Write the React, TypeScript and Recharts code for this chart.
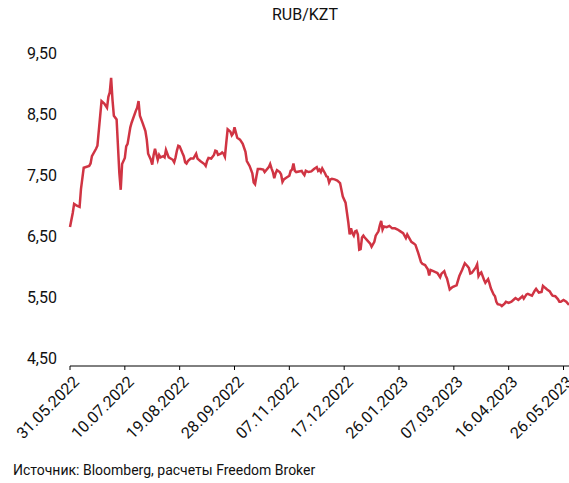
import { LineChart, Line, XAxis, YAxis } from 'recharts';

// days since 31.05.2022
const dayOffsets = [
  0, 2, 3, 5, 7, 8, 10, 14, 15, 16,
  19, 20, 23, 25, 27, 28, 29, 30, 31, 32,
  34, 36, 37, 38, 40, 41, 42, 44, 45, 48,
  49, 50, 51, 53, 55, 56, 57, 59, 60, 61,
  62, 64, 65, 66, 68, 69, 70, 72, 75, 76,
  77, 78, 79, 80, 82, 83, 84, 85, 86, 88,
  90, 92, 93, 95, 98, 99, 100, 101, 103, 105,
  106, 107, 108, 110, 111, 112, 113, 114, 115, 117,
  118, 119, 120, 122, 124, 126, 128, 129, 131, 133,
  134, 135, 136, 137, 139, 141, 142, 145, 146, 147,
  148, 149, 150, 151, 153, 154, 155, 156, 158, 160,
  161, 162, 163, 164, 165, 167, 169, 170, 171, 172,
  174, 176, 178, 180, 181, 182, 183, 184, 186, 187,
  188, 189, 190, 191, 193, 195, 197, 199, 201, 203,
  204, 205, 206, 207, 208, 209, 210, 211, 212, 213,
  214, 215, 217, 219, 220, 222, 223, 225, 226, 227,
  228, 229, 231, 233, 235, 237, 239, 241, 243, 245,
  246, 248, 249, 251, 252, 254, 256, 257, 259, 261,
  262, 263, 265, 267, 268, 270, 271, 273, 274, 275,
  277, 279, 281, 282, 284, 286, 288, 290, 291, 292,
  293, 294, 296, 297, 298, 299, 300, 302, 303, 305,
  306, 307, 309, 310, 311, 312, 314, 315, 317, 318,
  320, 322, 324, 325, 327, 328, 330, 331, 333, 334,
  336, 337, 339, 340, 341, 342, 344, 345, 346, 347,
  348, 350, 351, 352, 354, 356, 357, 358, 360, 362, 364,
];

const rubKzt = [
  6.72, 6.95, 7.10, 7.07, 7.05, 7.34, 7.69, 7.72, 7.76, 7.88,
  8.00, 8.05, 8.78, 8.74, 8.67, 8.85, 8.92, 9.16, 8.80, 8.54,
  8.48, 7.60, 7.33, 7.75, 7.85, 8.04, 8.08, 8.35, 8.43, 8.62,
  8.67, 8.78, 8.54, 8.42, 8.29, 8.15, 7.92, 7.82, 7.74, 7.90,
  8.00, 7.82, 7.90, 7.86, 7.88, 7.86, 7.98, 7.86, 7.82, 7.78,
  7.86, 7.97, 8.05, 8.04, 7.93, 7.88, 7.78, 7.76, 7.80, 7.84,
  7.84, 7.92, 7.84, 7.80, 7.75, 7.72, 7.80, 7.85, 7.84, 7.90,
  7.97, 7.96, 7.90, 7.92, 7.94, 7.92, 7.87, 8.10, 8.32, 8.28,
  8.22, 8.25, 8.35, 8.18, 8.15, 8.08, 7.95, 7.80, 7.72, 7.60,
  7.45, 7.42, 7.55, 7.67, 7.67, 7.66, 7.62, 7.70, 7.75, 7.68,
  7.62, 7.52, 7.60, 7.65, 7.62, 7.58, 7.46, 7.50, 7.53, 7.56,
  7.64, 7.66, 7.76, 7.64, 7.62, 7.63, 7.64, 7.60, 7.57, 7.64,
  7.62, 7.63, 7.67, 7.70, 7.64, 7.66, 7.62, 7.68, 7.60, 7.55,
  7.54, 7.45, 7.50, 7.51, 7.50, 7.48, 7.44, 7.22, 7.12, 6.80,
  6.60, 6.70, 6.62, 6.58, 6.65, 6.66, 6.60, 6.35, 6.36, 6.55,
  6.58, 6.55, 6.50, 6.45, 6.40, 6.48, 6.58, 6.65, 6.75, 6.82,
  6.68, 6.73, 6.72, 6.74, 6.70, 6.70, 6.68, 6.65, 6.62, 6.54,
  6.60, 6.52, 6.48, 6.45, 6.43, 6.30, 6.15, 6.12, 6.10, 6.03,
  5.93, 6.02, 6.00, 5.98, 5.97, 5.90, 5.96, 6.00, 5.93, 5.88,
  5.70, 5.74, 5.76, 5.77, 5.92, 6.02, 6.13, 6.08, 6.05, 5.96,
  5.97, 6.00, 6.06, 6.11, 5.92, 5.96, 5.98, 5.86, 5.81, 5.87,
  5.80, 5.72, 5.62, 5.59, 5.50, 5.46, 5.45, 5.43, 5.47, 5.50,
  5.48, 5.50, 5.54, 5.56, 5.53, 5.55, 5.59, 5.55, 5.62, 5.63,
  5.61, 5.60, 5.68, 5.71, 5.68, 5.65, 5.66, 5.76, 5.74, 5.72,
  5.70, 5.67, 5.63, 5.60, 5.59, 5.54, 5.50, 5.50, 5.53, 5.50, 5.45,
];

const xTickDays = [0, 40, 80, 120, 160, 200, 240, 280, 320, 360];
const xTickLabels = [
  '31.05.2022', '10.07.2022', '19.08.2022', '28.09.2022', '07.11.2022',
  '17.12.2022', '26.01.2023', '07.03.2023', '16.04.2023', '26.05.2023',
];
const yTicks = [4.5, 5.5, 6.5, 7.5, 8.5, 9.5];

const data = dayOffsets.map((d, i) => ({ day: d, rate: rubKzt[i] }));

const FONT = 'Roboto, "DejaVu Sans", sans-serif';

function XTick(props: any) {
  const { x, y, payload } = props;
  const idx = xTickDays.indexOf(payload.value);
  const ax = x + 10;
  const ay = y + 13;
  return (
    <text x={ax} y={ay} transform={`rotate(-45, ${ax}, ${ay})`} textAnchor="end" fontSize={16} fill="#111" fontFamily={FONT}>
      {xTickLabels[idx]}
    </text>
  );
}

function YTick(props: any) {
  const { x, y, payload } = props;
  return (
    <text x={x} y={y - 4} textAnchor="end" dominantBaseline="central" fontSize={16} fill="#111" fontFamily={FONT}>
      {payload.value.toFixed(2).replace('.', ',')}
    </text>
  );
}

export default function App() {
  return (
    <div style={{ position: 'absolute', left: 0, top: 0, width: 569, height: 483, background: '#fff', fontFamily: FONT }}>
      <div style={{ position: 'absolute', left: 240, top: 7, width: 130, textAlign: 'center', fontSize: 16, lineHeight: '16px', color: '#111', fontFamily: '"Liberation Sans Narrow", Roboto, sans-serif' }}>
        RUB/KZT
      </div>
      <LineChart width={569} height={483} data={data} margin={{ top: 57, right: 0, bottom: 0, left: 0 }}>
        <XAxis
          dataKey="day"
          type="number"
          domain={[0, 364]}
          ticks={xTickDays}
          interval={0}
          stroke="#000"
          tickSize={4}
          tickMargin={0}
          tick={<XTick />}
          height={117}
        />
        <YAxis
          type="number"
          domain={[4.45, 9.5]}
          ticks={yTicks}
          interval={0}
          axisLine={false}
          tickLine={false}
          tickSize={0}
          tickMargin={13}
          width={70}
          tick={<YTick />}
        />
        <Line type="linear" dataKey="rate" stroke="#d03443" strokeWidth={2.5} dot={false} isAnimationActive={false} />
      </LineChart>
      <div style={{ position: 'absolute', left: 13, top: 463, fontSize: 14, lineHeight: '14px', color: '#111', whiteSpace: 'nowrap' }}>
        Источник: Bloomberg, расчеты Freedom Broker
      </div>
    </div>
  );
}
